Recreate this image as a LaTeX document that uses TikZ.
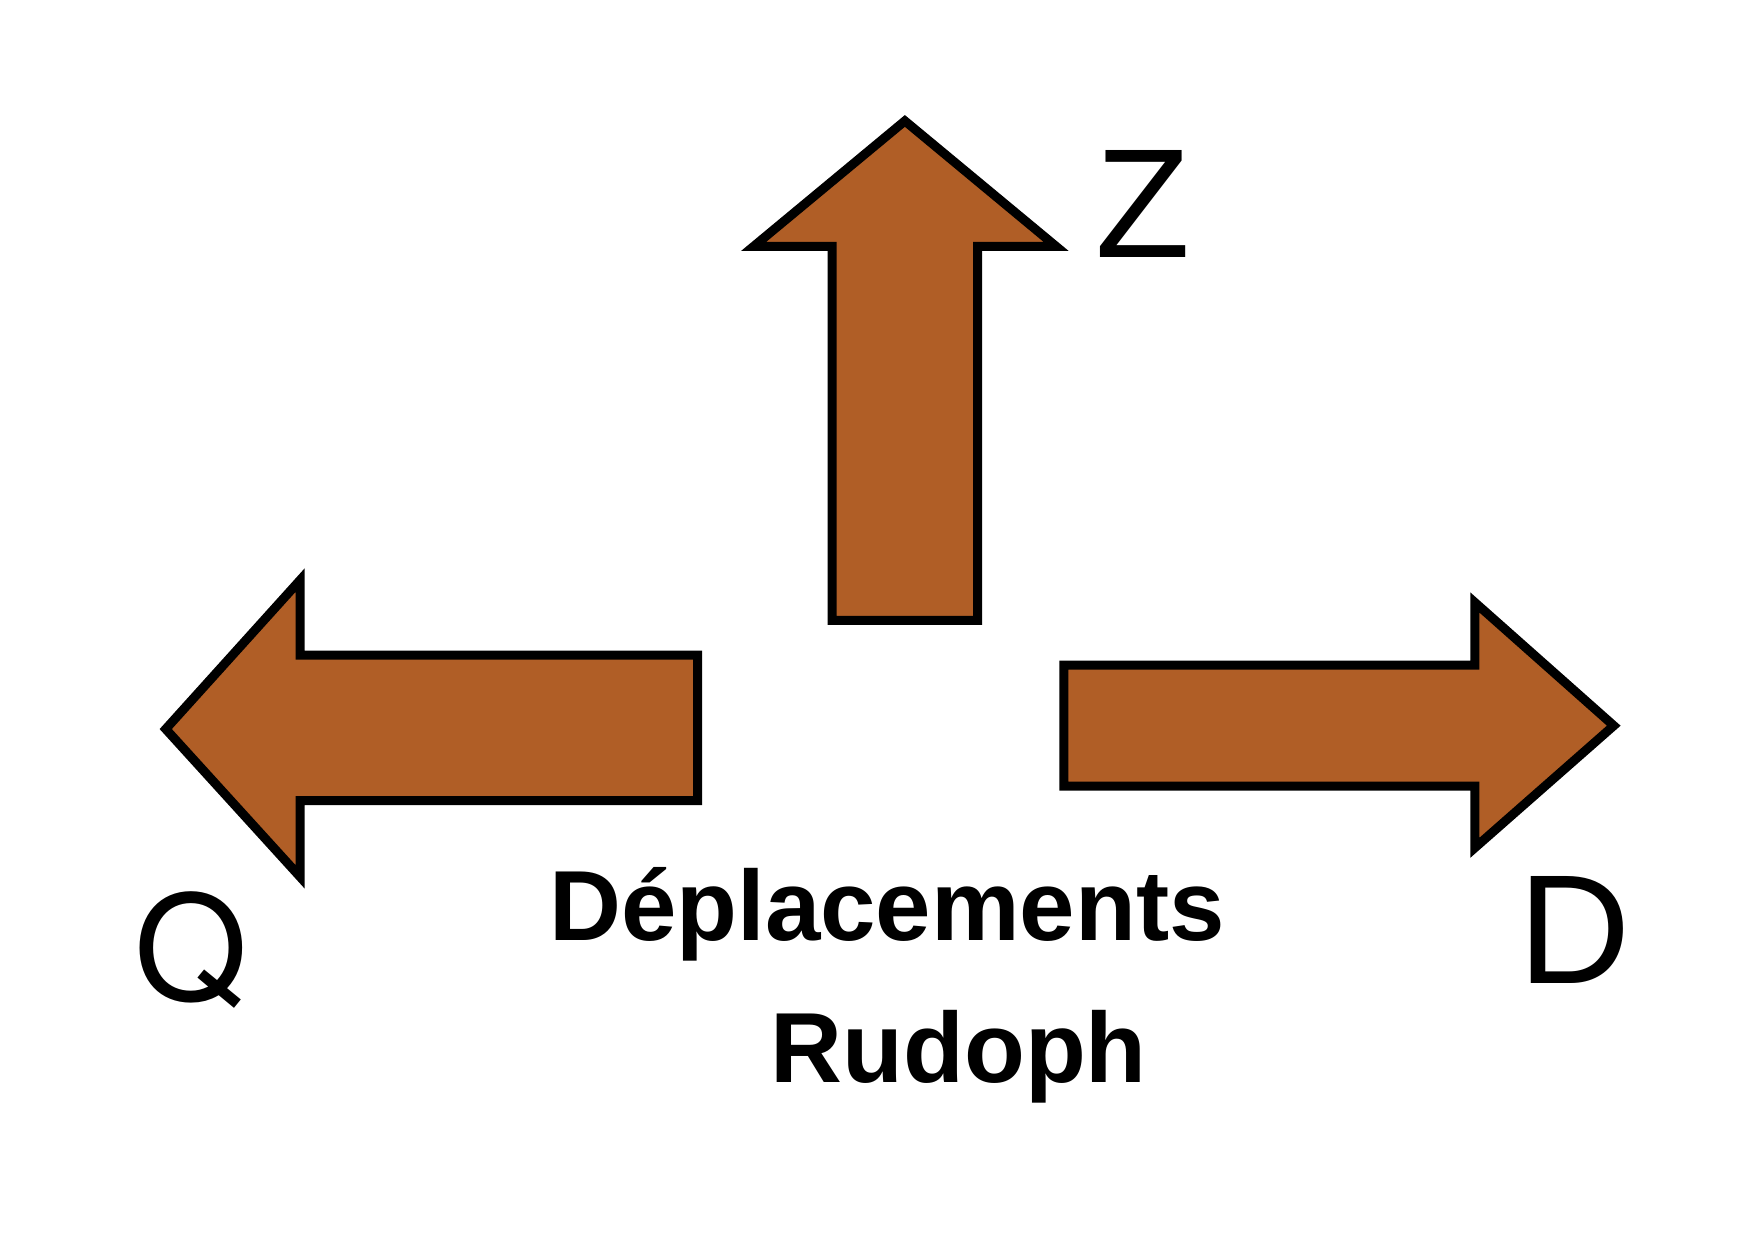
\documentclass[tikz,border=0pt]{standalone}
\usepackage{fontspec}
\setmainfont{Liberation Sans}
\newfontfamily\heros{TeX Gyre Heros}
\usepackage{xcolor}
\definecolor{arrowbrown}{RGB}{176,94,38}

\begin{document}
\begin{tikzpicture}[
    x=0.01cm, y=0.01cm,
    line join=miter,
    arrow body/.style={fill=arrowbrown, draw=black, line width=2.3pt},
    axis letter/.style={font=\fontsize{39.5}{44}\selectfont, anchor=base, inner sep=0pt},
    caption style/.style={font=\fontsize{25.3}{30}\selectfont\bfseries, anchor=base, inner sep=0pt}
]
  % Page frame
  \useasboundingbox (0,0) rectangle (1568,1109);

  % Up arrow (Z)
  \draw[arrow body] (808,1001) -- (943,889) -- (873,889) -- (873,555)
    -- (743,555) -- (743,889) -- (673,889) -- cycle;

  % Left arrow (Q)
  \draw[arrow body] (148,458) -- (268,591) -- (268,524) -- (623,524)
    -- (623,394) -- (268,394) -- (268,326) -- cycle;

  % Right arrow (D)
  \draw[arrow body] (1441,461) -- (1317,571) -- (1317,515) -- (950,515)
    -- (950,407) -- (1317,407) -- (1317,352) -- cycle;

  % Direction letters
  \node[axis letter] (zlabel) at (1021,879) {Z};
  \node[axis letter, font=\fontsize{37}{42}\selectfont\heros] (qlabel) at (171,216) {Q};
  \node[axis letter] (dlabel) at (1406,231) {D};

  % Caption
  \node[caption style] (title) at (792,269) {Déplacements};
  \node[caption style] (name) at (856,142) {Rudoph};
\end{tikzpicture}
\end{document}
